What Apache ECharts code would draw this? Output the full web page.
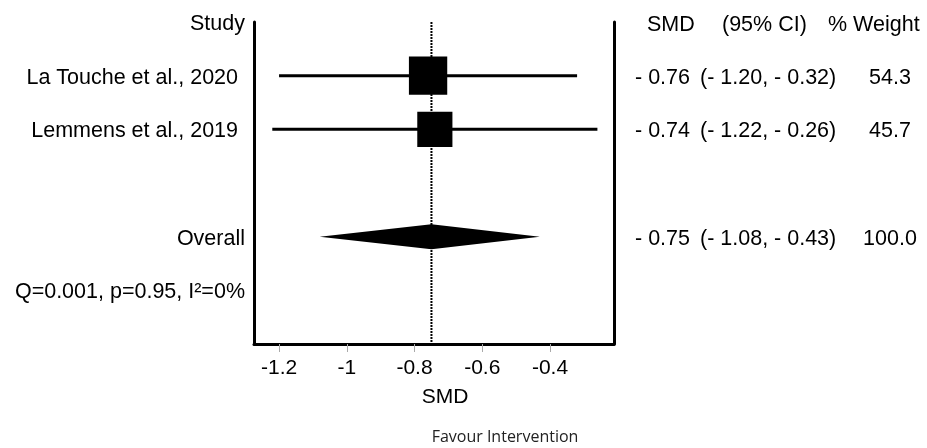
<!DOCTYPE html>
<html>
<head>
<meta charset="utf-8">
<title>Forest plot – SMD</title>
<script src="https://cdn.jsdelivr.net/npm/echarts@6/dist/echarts.min.js"></script>
<style>
  html, body { margin: 0; padding: 0; background: #fff; }
  #chart { width: 927px; height: 448px; }
</style>
</head>
<body>
<div id="chart"></div>
<script>
// Study-level effect sizes (standardised mean difference with 95% CI)
const studies = ['La Touche et al., 2020', 'Lemmens et al., 2019'];
const studySMD = [-0.76, -0.74];
const studyLow = [-1.20, -1.22];
const studyHigh = [-0.32, -0.26];
const studyWeight = [54.3, 45.7];

// Pooled estimate
const overallSMD = -0.75;
const overallLow = -1.08;
const overallHigh = -0.43;
const overallWeight = 100.0;

const heterogeneity = 'Q=0.001, p=0.95, I²=0%';
const xTicks = [-1.2, -1, -0.8, -0.6, -0.4];

const FONT = '"Liberation Sans", Arial, sans-serif';
const TABLE_SIZE = 21.5;

// Rows from top to bottom: header, studies, gap, overall, heterogeneity, bottom edge
const rowLabels = ['Study', ...studies, '', 'Overall', heterogeneity, ''];
const overallRow = rowLabels.indexOf('Overall');
const lastRow = rowLabels.length - 1;

// [estimate, low, high, weight, row, kind]  kind 0 = study, 1 = pooled
const forestData = studies.map((s, i) => [studySMD[i], studyLow[i], studyHigh[i], studyWeight[i], i + 1, 0]);
forestData.push([overallSMD, overallLow, overallHigh, overallWeight, overallRow, 1]);

function fmt(v) {
  return (v < 0 ? '- ' : '') + Math.abs(v).toFixed(2);
}

function textEl(x, y, text, align) {
  return {
    type: 'text', x: x, y: y,
    style: { text: text, font: TABLE_SIZE + 'px ' + FONT, fill: '#000', align: align || 'left', verticalAlign: 'middle' }
  };
}

function renderItem(params, api) {
  const est = api.value(0), lo = api.value(1), hi = api.value(2);
  const w = api.value(3), row = api.value(4), kind = api.value(5);
  const c = api.coord([est, row]);
  const pLo = api.coord([lo, row]);
  const pHi = api.coord([hi, row]);
  const right = params.coordSys.x + params.coordSys.width;
  const children = [];
  if (kind === 0) {
    children.push({
      type: 'line',
      shape: { x1: pLo[0], y1: c[1], x2: pHi[0], y2: c[1] },
      style: { stroke: '#000', lineWidth: 3 }
    });
    const side = 5.2 * Math.sqrt(w);
    children.push({
      type: 'rect',
      shape: { x: c[0] - side / 2, y: c[1] - side / 2, width: side, height: side },
      style: { fill: '#000' }
    });
  } else {
    const h = 12.5;
    children.push({
      type: 'polygon',
      shape: { points: [[pLo[0], c[1]], [c[0], c[1] - h], [pHi[0], c[1]], [c[0], c[1] + h]] },
      style: { fill: '#000' }
    });
  }
  // Right-hand table columns
  children.push(textEl(right + 21, c[1] + 2, fmt(est)));
  children.push(textEl(right + 86, c[1] + 2, '(' + fmt(lo) + ', ' + fmt(hi) + ')'));
  children.push(textEl(right + 276, c[1] + 2, w.toFixed(1), 'center'));
  return { type: 'group', children: children };
}

const chart = echarts.init(document.getElementById('chart'), null, { renderer: 'canvas' });

const rowAxis = {
  type: 'value',
  min: 0,
  max: lastRow,
  interval: 1,
  inverse: true,
  axisLine: { show: true, onZero: false, lineStyle: { color: '#000', width: 3 } },
  axisTick: { show: false },
  splitLine: { show: false }
};

const option = {
  backgroundColor: '#fff',
  animation: false,
  grid: { left: 254, right: 313, top: 22, bottom: 104, containLabel: false },
  xAxis: {
    type: 'value',
    min: -1.274,
    max: -0.211,
    name: 'SMD',
    nameLocation: 'middle',
    nameGap: 43,
    nameTextStyle: { fontSize: 21, fontFamily: FONT, color: '#000', padding: [0, 0, 0, 22] },
    axisLine: { show: true, onZero: false, lineStyle: { color: '#000', width: 3 } },
    axisTick: { show: true, customValues: xTicks, length: 8, lineStyle: { color: '#aaa', width: 1 } },
    axisLabel: { customValues: xTicks, fontSize: 21, fontFamily: FONT, color: '#000', margin: 14 },
    splitLine: { show: false }
  },
  yAxis: [
    Object.assign({}, rowAxis, {
      axisLabel: {
        showMinLabel: true,
        showMaxLabel: true,
        margin: 9,
        color: '#000',
        formatter: function (v) {
          const label = rowLabels[Math.round(v)] || '';
          if (!label) return '';
          return (studies.indexOf(label) >= 0 ? '{s|' : '{t|') + label + '}';
        },
        rich: {
          t: { fontSize: 21.5, fontFamily: FONT, color: '#000', padding: [4, 0, 0, 0] },
          s: { fontSize: 21.5, fontFamily: FONT, color: '#000', padding: [4, 7, 0, 0] }
        }
      }
    }),
    Object.assign({}, rowAxis, {
      position: 'right',
      axisLabel: { show: false }
    })
  ],
  graphic: [
    textEl(647, 25, 'SMD'),
    textEl(722, 25, '(95% CI)'),
    textEl(828, 25, '% Weight'),
    {
      type: 'text', x: 505, y: 437,
      style: { text: 'Favour Intervention', font: '16px "Open Sans", sans-serif', fill: '#222', align: 'center', verticalAlign: 'middle' }
    }
  ],
  series: [
    {
      // vertical reference line at the pooled estimate
      type: 'line',
      data: [[overallSMD, 0], [overallSMD, lastRow]],
      symbol: 'none',
      silent: true,
      z: 1,
      lineStyle: { color: '#000', width: 2, type: [2, 1] }
    },
    {
      type: 'custom',
      renderItem: renderItem,
      data: forestData,
      encode: { x: 0, y: 4 },
      clip: false,
      silent: true,
      z: 2
    }
  ]
};

chart.setOption(option);
</script>
</body>
</html>
